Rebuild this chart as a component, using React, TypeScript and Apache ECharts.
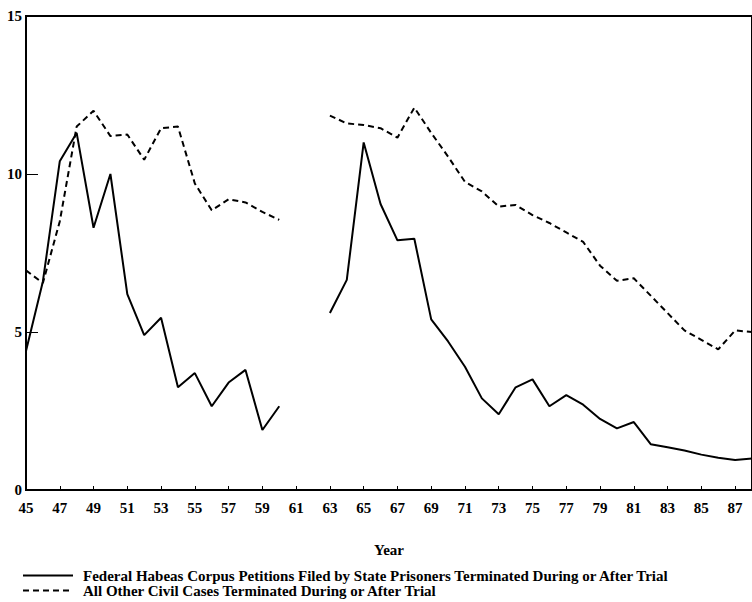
import React, { useEffect, useRef } from "react";
import * as echarts from "echarts";

const years = [
  "45","46","47","48","49","50","51","52","53","54","55","56","57","58","59","60",
  "61","62","63","64","65","66","67","68","69","70","71","72","73","74","75","76",
  "77","78","79","80","81","82","83","84","85","86","87","88",
];

const habeas = [
  4.4, 6.6, 10.4, 11.3, 8.3, 10.0, 6.2, 4.9, 5.45, 3.25, 3.7, 2.65, 3.4, 3.8, 1.9, 2.65,
  null, null, 5.6, 6.65, 11.0, 9.05, 7.9, 7.95, 5.4, 4.7, 3.9, 2.9, 2.4, 3.25, 3.5, 2.65,
  3.0, 2.7, 2.25, 1.95, 2.15, 1.45, 1.35, 1.25, 1.12, 1.02, 0.95, 1.0,
];

const otherCivil = [
  6.95, 6.55, 8.5, 11.5, 12.0, 11.2, 11.25, 10.45, 11.45, 11.5, 9.7, 8.85, 9.2, 9.1, 8.8, 8.55,
  null, null, 11.85, 11.6, 11.55, 11.45, 11.15, 12.1, 11.3, 10.55, 9.75, 9.45, 8.97, 9.02, 8.7, 8.45,
  8.15, 7.85, 7.1, 6.62, 6.7, 6.15, 5.6, 5.05, 4.75, 4.45, 5.05, 5.0,
];

const yTicks = { min: 0, max: 15, interval: 5 };

const habeasName =
  "Federal Habeas Corpus Petitions Filed by State Prisoners Terminated During or After Trial";
const otherName = "All Other Civil Cases Terminated During or After Trial";

const FONT = "'Liberation Serif', 'Times New Roman', serif";

export default function App() {
  const ref = useRef<HTMLDivElement>(null);
  useEffect(() => {
    if (!ref.current) return;
    const chart = echarts.init(ref.current, undefined, { renderer: "svg" });
    chart.setOption({
      animation: false,
      backgroundColor: "#ffffff",
      grid: {
        left: 26,
        top: 16,
        right: -8,
        bottom: 112,
        show: true,
        borderColor: "#000",
        borderWidth: 2,
        containLabel: false,
      },
      legend: {
        orient: "vertical",
        left: 22,
        top: 568,
        itemWidth: 50,
        itemHeight: 15,
        itemGap: 0,
        padding: 0,
        icon: "inherit",
        itemStyle: { opacity: 0 },
        textStyle: {
          fontFamily: FONT,
          fontWeight: "bold",
          fontSize: 15,
          color: "#000",
          padding: [0, 0, 0, 5],
        },
        data: [habeasName, otherName],
      },
      xAxis: {
        type: "category",
        data: years,
        boundaryGap: false,
        name: "Year",
        nameLocation: "middle",
        nameGap: 52,
        nameTextStyle: { fontFamily: FONT, fontWeight: "bold", fontSize: 15, color: "#000" },
        axisLine: { lineStyle: { color: "#000", width: 2 } },
        axisTick: { show: true, inside: true, interval: 1, length: 4, lineStyle: { color: "#000", width: 1 } },
        axisLabel: {
          interval: 1,
          margin: 10,
          fontFamily: FONT,
          fontWeight: "bold",
          fontSize: 15,
          color: "#000",
        },
        splitLine: { show: false },
      },
      yAxis: {
        type: "value",
        min: yTicks.min,
        max: yTicks.max,
        interval: yTicks.interval,
        axisLine: { show: true, lineStyle: { color: "#000", width: 2 } },
        axisTick: { show: true, inside: true, length: 12, lineStyle: { color: "#000", width: 1 } },
        axisLabel: {
          margin: 4,
          fontFamily: FONT,
          fontWeight: "bold",
          fontSize: 15,
          color: "#000",
        },
        splitLine: { show: false },
      },
      series: [
        {
          name: habeasName,
          type: "line",
          data: habeas,
          symbol: "none",
          connectNulls: false,
          clip: true,
          lineStyle: { color: "#000", width: 2 },
          itemStyle: { color: "#000" },
        },
        {
          name: otherName,
          type: "line",
          data: otherCivil,
          symbol: "none",
          connectNulls: false,
          clip: true,
          lineStyle: { color: "#000", width: 2, type: [6, 4] },
          itemStyle: { color: "#000" },
        },
      ],
    });
    return () => chart.dispose();
  }, []);
  return (
    <div
      ref={ref}
      style={{ position: "fixed", left: 0, top: 0, width: 752, height: 602, background: "#fff" }}
    />
  );
}
